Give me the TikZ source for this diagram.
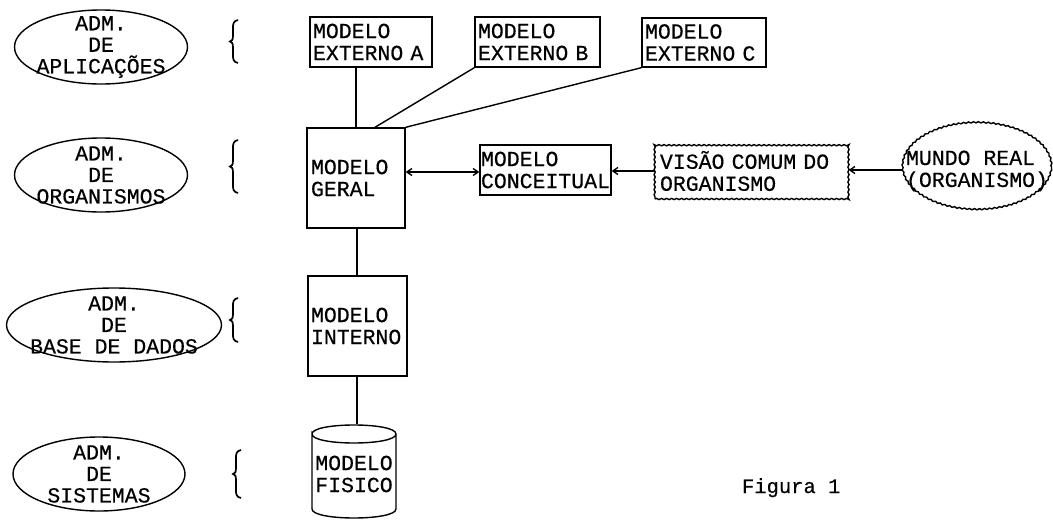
\documentclass[tikz,border=0pt]{standalone}
\usepackage{fontspec}
\setmainfont{Liberation Mono}[WordSpace={1,0,0},FakeBold=0.4]
\usetikzlibrary{shapes.geometric,arrows.meta,decorations.pathmorphing}
\newcommand\hbrace[3]{%
  \draw[line width=1.7pt] ({#1+8},#2) .. controls ({#1+3},{#2+1}) and ({#1+3},{#2+4}) .. ({#1+3},{#2+9})
    -- ({#1+3},{(#2+#3)/2-6}) .. controls ({#1+3},{(#2+#3)/2-2}) and ({#1+2},{(#2+#3)/2}) .. (#1,{(#2+#3)/2})
    .. controls ({#1+2},{(#2+#3)/2}) and ({#1+3},{(#2+#3)/2+2}) .. ({#1+3},{(#2+#3)/2+6})
    -- ({#1+3},{#3-9}) .. controls ({#1+3},{#3-4}) and ({#1+3},{#3-1}) .. ({#1+8},#3);}
\begin{document}
\begin{tikzpicture}[x=1pt,y=-1pt,
  line width=1.4pt,
  >={Straight Barb[length=5pt,width=7pt]},
  every node/.style={font=\fontsize{21.5}{22}\selectfont},
  mbox/.style n args={3}{draw, rectangle, minimum width=#1, minimum height=#2, text width=#3,
     inner ysep=0pt, align=left},
  adm/.style={draw, ellipse, minimum width=#1, minimum height=74, inner sep=0pt},
  admtxt/.style={align=center, font=\fontsize{21.5}{21.5}\selectfont},
  wiggle/.style={decorate, decoration={snake, amplitude=0.6pt, segment length=5pt}}
]
\fill[white] (0,0) rectangle (1053,522);
\useasboundingbox (0,0) rectangle (1053,522);

% left ellipses
\node[adm=173] (e1) at (101,47) {};
\node[admtxt] at (e1) {ADM.\\DE\\APLICAÇÕES};
\node[adm=173] (e2) at (101,175) {};
\node[admtxt] at (e2) {ADM.\\DE\\ORGANISMOS};
\node[adm=215] (e3) at (114,325) {};
\node[admtxt] at (e3) {ADM.\\DE\\BASE DE DADOS};
\node[adm=172] (e4) at (99,474) {};
\node[admtxt] at (e4) {ADM.\\DE\\SISTEMAS};

% braces
\hbrace{230}{20}{63}
\hbrace{230}{140}{193}
\hbrace{230}{298}{342}
\hbrace{233}{450}{498}

% boxes
\node[mbox={122}{50}{116}, inner xsep=3pt] (A) at (371,42) {MODELO\\EXTERNO A};
\node[mbox={125}{50}{119}, inner xsep=3pt] (B) at (537.5,42) {MODELO\\EXTERNO B};
\node[mbox={124}{49}{118}, inner xsep=3pt] (C) at (704,42.5) {MODELO\\EXTERNO C};
\node[mbox={98}{100}{90}, inner xsep=4pt] (ger) at (356,178) {MODELO\\GERAL};
\node[mbox={131}{50}{129}, inner xsep=1pt] (con) at (545.5,170) {MODELO\\CONCEITUAL};
\node[mbox={193}{56}{183}, inner xsep=5pt, wiggle] (vis) at (751.5,171) {VISÃO COMUM DO\\ORGANISMO};
\node[mbox={99}{100}{93}, inner xsep=3pt] (int) at (357.5,326) {MODELO\\INTERNO};

% cloud
\node[draw, ellipse, minimum width=149, minimum height=87, inner sep=0pt, wiggle] (mun) at (977,167) {};
\node[align=left] at (977,171) {MUNDO REAL\\(ORGANISMO)};

% cylinder
\node[minimum width=84, minimum height=98, inner sep=0pt, align=left] (fis) at (354,474) {MODELO\\FISICO};
\draw (312,434) .. controls (312,422) and (396,422) .. (396,434)
      .. controls (396,446) and (312,446) .. (312,434) -- (312,509)
      .. controls (312,521) and (396,521) .. (396,509) -- (396,434);

% connectors
\draw (A.south -| ger.north) -- (ger.north);
\draw (B.south west) -- ([xshift=19pt]ger.north);
\draw (C.south west) -- (ger.north east);
\draw[<->] (ger.east |- 0,172) -- (con.west |- 0,172);
\draw[->] (vis.west) -- (con.east |- vis.west);
\draw[->] (mun.west |- 0,170) -- (vis.east |- 0,170);
\draw ([xshift=1pt]ger.south) -- ([xshift=1pt]ger.south |- int.north);
\draw ([xshift=-0.5pt]int.south) -- ([xshift=-0.5pt]int.south |- fis.north);

\node[anchor=base west, font=\fontsize{20.5}{22}\selectfont] (fig) at (738,493) {Figura 1};
\end{tikzpicture}
\end{document}
